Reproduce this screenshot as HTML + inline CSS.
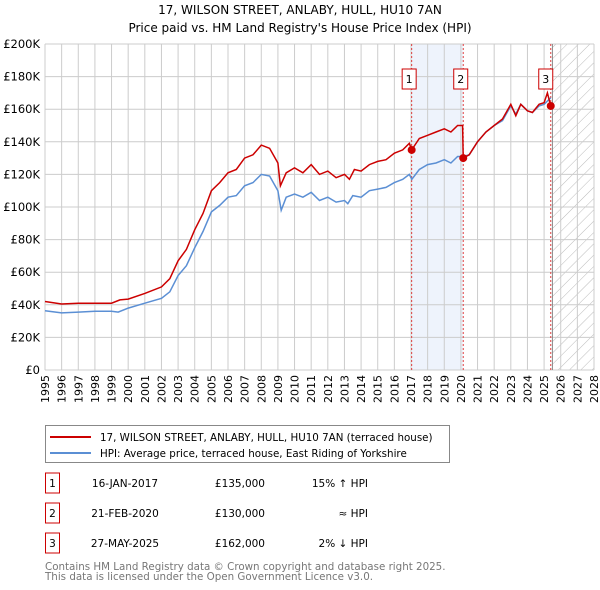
<!DOCTYPE html>
<html><head><meta charset="utf-8"><style>
body{margin:0;background:#fff;width:600px;height:590px;overflow:hidden;font-family:"DejaVu Sans","Liberation Sans",sans-serif;}
svg{display:block}
</style></head><body>
<svg id="c" width="600" height="590" xmlns="http://www.w3.org/2000/svg" font-family="DejaVu Sans, Liberation Sans, sans-serif">
<defs><pattern id="hatch" width="8" height="8" patternUnits="userSpaceOnUse" patternTransform="rotate(45)"><line x1="0" y1="0" x2="0" y2="8" stroke="#bbb" stroke-width="1"/></pattern></defs>
<text x="300" y="14" text-anchor="middle" font-size="12" fill="#000">17, WILSON STREET, ANLABY, HULL, HU10 7AN</text>
<text x="300" y="32" text-anchor="middle" font-size="12" fill="#000">Price paid vs. HM Land Registry's House Price Index (HPI)</text>
<g id="plot"></g>
<g>
<rect x="45.5" y="425.5" width="404" height="37" fill="#fff" stroke="#888"/>
<line x1="50" y1="437" x2="91" y2="437" stroke="#cc0000" stroke-width="2"/>
<text x="100" y="441" font-size="10.3">17, WILSON STREET, ANLABY, HULL, HU10 7AN (terraced house)</text>
<line x1="50" y1="453" x2="91" y2="453" stroke="#5b8fd4" stroke-width="2"/>
<text x="100" y="457" font-size="10.3">HPI: Average price, terraced house, East Riding of Yorkshire</text>
</g>
<g id="table" font-size="10.5"></g>
<text x="45" y="570" font-size="10.3" fill="#777">Contains HM Land Registry data © Crown copyright and database right 2025.</text>
<text x="45" y="580" font-size="10.3" fill="#777">This data is licensed under the Open Government Licence v3.0.</text>
</svg>
<script>
const hpiYears=[1995,1996,1997,1998,1999,1999.4,2000,2001,2002,2002.5,2003,2003.5,2004,2004.5,2005,2005.5,2006,2006.5,2007,2007.5,2008,2008.5,2009.0,2009.2,2009.5,2010,2010.5,2011,2011.5,2012,2012.5,2013,2013.2,2013.5,2014,2014.5,2015,2015.5,2016,2016.5,2016.9,2017.05,2017.5,2018,2018.5,2019,2019.4,2019.8,2020.1,2020.5,2021,2021.5,2022,2022.5,2023,2023.3,2023.6,2024,2024.3,2024.7,2025,2025.4];
const hpiValues=[36.4,35,35.5,36,36,35.5,38,41,44,48,58,64,75,85,97,101,106,107,113,115,120,119,110,98,106,108,106,109,104,106,103,104,102,107,106,110,111,112,115,117,120,117,123,126,127,129,127,131,131,132,140,146,150,153,162,157,163,159,158,162,163,167];
const priceYears=[1995,1996,1997,1998,1999,1999.5,2000,2001,2002,2002.5,2003,2003.5,2004,2004.5,2005,2005.5,2006,2006.5,2007,2007.5,2008,2008.5,2009.0,2009.15,2009.5,2010,2010.5,2011,2011.5,2012,2012.5,2013,2013.3,2013.6,2014,2014.5,2015,2015.5,2016,2016.5,2016.9,2017.04,2017.5,2018,2018.5,2019,2019.4,2019.8,2020.1,2020.14,2020.5,2021,2021.5,2022,2022.5,2023,2023.3,2023.6,2024,2024.3,2024.7,2025.0,2025.2,2025.4];
const priceValues=[42,40.5,41,41,41,43,43.5,47,51,56,67,74,86,96,110,115,121,123,130,132,138,136,127,113,121,124,121,126,120,122,118,120,117,123,122,126,128,129,133,135,139,135,142,144,146,148,146,150,150,130,132,140,146,150,154,163,156,163,159,158,163,164,170,162];
const saleYears=[2017.04,2020.14,2025.4];
const saleValues=[135,130,162];
const saleLabels=["1","2","3"];
const saleDates=["16-JAN-2017","21-FEB-2020","27-MAY-2025"];
const salePrices=["£135,000","£130,000","£162,000"];
const saleHpi=["15% ↑ HPI","≈ HPI","2% ↓ HPI"];
const yTicks=[0,20,40,60,80,100,120,140,160,180,200];
const xTicks=[];for(let y=1995;y<=2028;y++)xTicks.push(y);

const NS="http://www.w3.org/2000/svg";
const L=45,R=594,T=44,B=370;
const X=y=>L+(y-1995)/(2028-1995)*(R-L);
const Y=v=>B-v/200*(B-T);
const plot=document.getElementById('plot');
function mk(tag,attrs,parent){const e=document.createElementNS(NS,tag);for(const k in attrs)e.setAttribute(k,attrs[k]);(parent||plot).appendChild(e);return e;}

let band=mk('rect',{x:X(saleYears[0]),y:T,width:X(saleYears[1])-X(saleYears[0]),height:B-T,fill:'#eef3fc'});


let hat=mk('rect',{x:X(2025.5),y:T,width:R-X(2025.5),height:B-T,fill:'url(#hatch)'});


xTicks.forEach(t=>{
  let g=mk('line',{x1:X(t),x2:X(t),y1:T,y2:B,stroke:'#ccc','stroke-width':1});
  
  
  let tx=mk('text',{x:0,y:0,'font-size':11,'text-anchor':'end',transform:`translate(${X(t)+4},${B+5}) rotate(-90)`});
  tx.textContent=t;
  
  
});
yTicks.forEach(t=>{
  let g=mk('line',{x1:L,x2:R,y1:Y(t),y2:Y(t),stroke:'#ccc','stroke-width':1});
  
  
  let tx=mk('text',{x:L-5,y:Y(t)+4,'font-size':11.5,'text-anchor':'end'});
  tx.textContent=t===0?'£0':'£'+t+'K';
  
  
});
saleYears.forEach((s,i)=>{
  let l=mk('line',{x1:X(s),x2:X(s),y1:T,y2:B,stroke:'#e04040','stroke-width':1,'stroke-dasharray':'2,2'});
  
  
});
let nowL=mk('line',{x1:X(2025.5),x2:X(2025.5),y1:T,y2:B,stroke:'#888','stroke-width':1});


function path(xs,vs){return xs.map((x,i)=>(i?'L':'M')+X(x).toFixed(1)+','+Y(vs[i]).toFixed(1)).join('');}
let hp=mk('path',{d:path(hpiYears,hpiValues),fill:'none',stroke:'#5b8fd4','stroke-width':1.5});


let pp=mk('path',{d:path(priceYears,priceValues),fill:'none',stroke:'#cc0000','stroke-width':1.5});


saleYears.forEach((s,i)=>{
  let c=mk('circle',{cx:X(s),cy:Y(saleValues[i]),r:4,fill:'#cc0000'});
  
  
  let bx=X(s)-(i===2?5:2.5);
  let r=mk('rect',{x:bx-7,y:69,width:14,height:20,fill:'#fff',stroke:'#cc0000'});
  
  
  let t=mk('text',{x:bx,y:83,'font-size':11,'text-anchor':'middle'});
  t.textContent=saleLabels[i];
  
  
});
const tbl=document.getElementById('table');
saleLabels.forEach((lab,i)=>{
  const yy=483+i*30;
  let r=mk('rect',{x:45.5,y:yy-10,width:14,height:20,fill:'#fff',stroke:'#cc0000'},tbl);
  
  
  let t=mk('text',{x:52.5,y:yy+4,'text-anchor':'middle'},tbl);t.textContent=lab;
  
  
  let d=mk('text',{x:125,y:yy+4,'text-anchor':'middle'},tbl);d.textContent=saleDates[i];
  
  
  let p=mk('text',{x:265,y:yy+4,'text-anchor':'end'},tbl);p.textContent=salePrices[i];
  
  
  let h=mk('text',{x:368,y:yy+4,'text-anchor':'end'},tbl);h.textContent=saleHpi[i];
  
  
});
</script>
</body></html>
